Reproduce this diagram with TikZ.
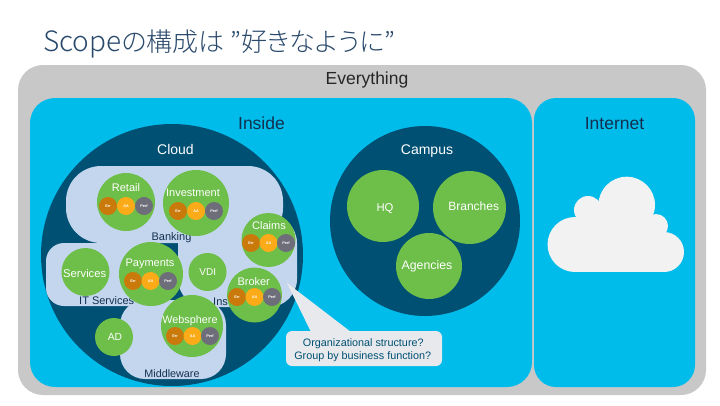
\documentclass[tikz,border=0pt]{standalone}
\usepackage{fontspec}
\setmainfont{Liberation Sans}
\newfontfamily\cjk[RawFeature=+palt]{Noto Sans CJK JP Light}
\definecolor{grayout}{HTML}{C8C8C8}
\definecolor{skyb}{HTML}{00BCEB}
\definecolor{deep}{HTML}{005073}
\definecolor{pale}{HTML}{C4D6ED}
\definecolor{leaf}{HTML}{6EBE4A}
\definecolor{ochre}{HTML}{C97A0B}
\definecolor{amber}{HTML}{FBAB18}
\definecolor{slate}{HTML}{6E6D7A}
\definecolor{inkb}{HTML}{12304F}
\definecolor{titlec}{HTML}{2A4A6C}
\definecolor{balloon}{HTML}{E7E9EC}
\definecolor{cloudw}{HTML}{F2F2F2}
\newcommand{\sz}[1]{\fontsize{#1}{#1}\selectfont}
\tikzset{
  x=1pt,y=-1pt,
  disc/.style={circle,inner sep=0pt,outer sep=0pt,draw=none},
  green/.style={disc,fill=leaf},
  dark/.style={disc,fill=deep},
  blob/.style={fill=pale,draw=none,rounded corners=#1},
  lab/.style={inner sep=0pt,anchor=base,font=\sz{#1},yshift=-0.36*#1 pt},
  wl/.style={lab=#1,text=white},
  dl/.style={lab=#1,text=inkb},
  mini/.style={disc,minimum size=18pt,text=white,font=\fontsize{3.8}{4}\selectfont\bfseries},
}
\newcommand{\trio}[4]{%
  \node[mini,fill=ochre] (#1e) at (#2,#4) {Err};
  \node[mini,fill=amber] (#1a) at (#3,#4) {AA};
  \node[mini,fill=slate] (#1p) at (#3+#3-#2,#4) {Perf};
}
\begin{document}
\begin{tikzpicture}
\useasboundingbox (0,0) rectangle (720,405);
\fill[white] (0,0) rectangle (720,405);
\node[inner sep=0pt,anchor=base west,text=titlec,font=\sz{26}\cjk] (title) at (43,51) {\sz{28}Scope\sz{26}の構成は ”好きなように”};
\fill[grayout,rounded corners=25] (18,65) rectangle (706,395);
\fill[skyb,rounded corners=25] (30,98) rectangle (532,387);
\fill[skyb,rounded corners=22] (534,98) rectangle (695,387);
\node[lab=17.5,text=black!85] (everything) at (367,78) {Everything};
\node[dl=17.5] (inside) at (261.5,123) {Inside};
\node[dl=17.5] (internet) at (614.5,123) {Internet};
% internet cloud
\fill[cloudw] (575,225) rectangle (664,272);
\fill[cloudw] (585,212) rectangle (650,230);
\fill[cloudw] (575,244.5) circle (27.5);
\fill[cloudw] (664,252) circle (20);
\fill[cloudw] (626.7,205) circle (28.3);
\fill[cloudw] (588,210) circle (14);
\fill[cloudw] (656,226) circle (12);
% cloud
\node[dark,minimum size=262pt] (cloudc) at (172,255) {};
\node[wl=14] (cloudl) at (175.5,149) {Cloud};
\fill[blob=35] (66,166) rectangle (283,243);
\fill[blob=18] (46,243) rectangle (172,306);
\fill[blob=28] (178,215) rectangle (297,307);
\fill[blob=25] (120,300) rectangle (226,379);
\node[dl=11] (banking) at (171.5,237) {Banking};
\node[dl=11] (its) at (106.7,301) {IT Services};
\node[dl=11,anchor=base west] (ins) at (213,302) {Ins};
\node[dl=10.8] (mw) at (172,374) {Middleware};
% circles
\node[green,minimum size=58pt] (retail) at (126,202) {};
\node[wl=11] at (126,188) {Retail};
\trio{r}{108}{126}{206}
\node[green,minimum size=66pt] (invest) at (196,203) {};
\node[wl=11] at (193,193) {Investment};
\trio{i}{178}{196}{211}
\node[green,minimum size=54pt] (claims) at (268.5,240) {};
\node[wl=11] at (269,226) {Claims};
\trio{c}{251}{268.5}{243}
\node[green,minimum size=64pt] (pay) at (151,274) {};
\node[wl=11] at (150,263) {Payments};
\trio{p}{133}{150.5}{281}
\node[green,minimum size=48pt] (serv) at (85.5,272) {};
\node[wl=11.2] at (84.7,273) {Services};
\node[green,minimum size=38pt] (vdi) at (207.5,272) {};
\node[wl=10] at (207.7,272) {VDI};
\node[green,minimum size=55pt] (broker) at (254.5,295) {};
\node[wl=11] at (253.7,282) {Broker};
\trio{b}{237}{254.5}{297}
\node[green,minimum size=62pt] (web) at (192,326) {};
\node[wl=10.8] at (190,320) {Websphere};
\trio{w}{175}{192.5}{336}
\node[green,minimum size=38pt] (ad) at (114,337) {};
\node[wl=10.3] at (115,337) {AD};
% campus
\node[dark,minimum size=190pt] (campus) at (425,221) {};
\node[wl=14] at (427,149) {Campus};
\node[green,minimum size=72pt] (hq) at (383,206) {};
\node[wl=11.3] at (385,207) {HQ};
\node[green,minimum size=73pt] (branches) at (469.5,207.5) {};
\node[wl=12] at (473.7,205.7) {Branches};
\node[green,minimum size=66pt] (agencies) at (429,266) {};
\node[wl=12.3] at (427,264.7) {Agencies};
% balloon
\coordinate (tip) at (287,283);
\fill[balloon,rounded corners=6] (286,331) rectangle (442,366);
\fill[balloon] (tip) -- (311,332) -- (351,332) -- cycle;
\node[lab=10.8,text=deep] (q1) at (363.3,342.3) {Organizational structure?};
\node[lab=10.8,text=deep] (q2) at (362.7,355.3) {Group by business function?};
\end{tikzpicture}
\end{document}
